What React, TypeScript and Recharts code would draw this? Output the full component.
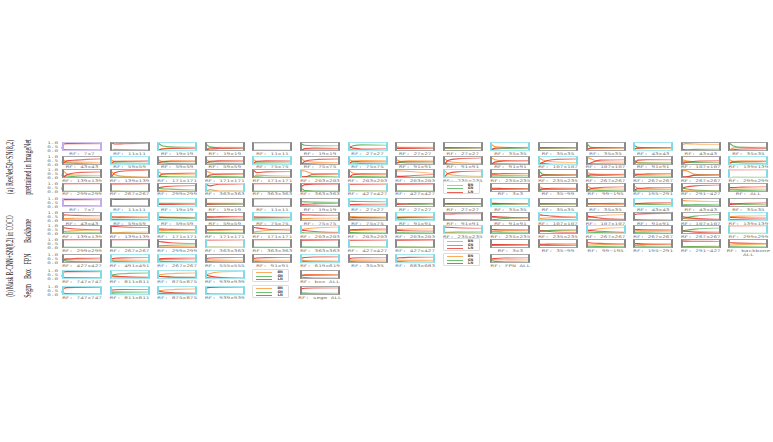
import React from 'react';
import { LineChart, Line, XAxis, YAxis } from 'recharts';

// training progress positions (fraction of iterations)
const STEPS = [0, 0.04, 0.12, 0.35, 1];

type S = number[] | null;

// ---------- (a) ResNet50+SN(8,2) pretrained in ImageNet ----------
const ROW1_LABELS = ['7x7', '11x11', '19x19', '19x19', '11x11', '19x19', '27x27', '27x27', '27x27', '35x35', '35x35', '35x35', '43x43', '43x43', '35x35'];
const ROW2_LABELS = ['43x43', '59x59', '59x59', '59x59', '75x75', '75x75', '75x75', '91x91', '91x91', '91x91', '107x107', '107x107', '91x91', '107x107', '139x139'];
const ROW3_LABELS = ['139x139', '139x139', '171x171', '171x171', '171x171', '203x203', '203x203', '203x203', '235x235', '235x235', '235x235', '267x267', '267x267', '267x267', '299x299'];
const ROW4A_LABELS = ['299x299', '267x267', '299x299', '363x363', '363x363', '363x363', '427x427', '427x427', null, '3x3', '35~99', '99~195', '195~291', '291~427', 'ALL'];
const ROW4B_LABELS = ['299x299', '267x267', '299x299', '363x363', '363x363', '363x363', '427x427', '427x427', null, '3x3', '35~99', '99~195', '195~291', '291~427', 'backbone\nALL'];
const FPN_LABELS = ['427x427', '491x491', '267x267', '555x555', '91x91', '619x619', '35x35', '683x683', null, 'FPN ALL'];
const BOX_LABELS = ['747x747', '811x811', '875x875', '939x939', null, 'box ALL'];
const SEGM_LABELS = ['747x747', '811x811', '875x875', '939x939', null, 'segm ALL'];

const A1_BN: S[] = [[0.33,0.08,0.05,0.05,0.05],[0.33,0.02,0.15,0.12,0.07],[0.33,0.1,0.2,0.3,0.35],[0.33,0.15,0.35,0.4,0.4],[0.33,0.01,0.01,0.01,0.01],[0.33,0.1,0.1,0.1,0.15],[0.33,0.2,0.1,0.1,0.1],[0.33,0.45,0.4,0.4,0.4],[0.33,0.35,0.35,0.35,0.35],[0.33,0.7,0.5,0.4,0.35],[0.33,0.33,0.33,0.35,0.35],[0.33,0.1,0.3,0.3,0.3],[0.33,0.15,0.3,0.3,0.3],[0.33,0.75,0.85,0.8,0.75],[0.33,0.1,0.3,0.4,0.4]];
const A1_GN: S[] = [[0.33,0.12,0.1,0.1,0.1],[0.33,0.03,0.05,0.05,0.03],[0.33,0.85,0.6,0.45,0.4],[0.33,0.7,0.45,0.35,0.3],[0.33,0.01,0.04,0.04,0.04],[0.33,0.8,0.65,0.6,0.6],[0.33,0.3,0.6,0.7,0.65],[0.33,0.3,0.35,0.35,0.35],[0.33,0.3,0.3,0.3,0.3],[0.33,0.2,0.2,0.25,0.25],[0.33,0.3,0.3,0.3,0.3],[0.33,0.7,0.4,0.35,0.35],[0.33,0.6,0.4,0.35,0.35],[0.33,0.15,0.1,0.15,0.2],[0.33,0.85,0.6,0.4,0.35]];
const A1_LN: S[] = [[0.33,0.8,0.85,0.85,0.85],[0.33,0.95,0.8,0.83,0.9],[0.33,0.05,0.2,0.25,0.25],[0.33,0.15,0.2,0.25,0.3],[0.33,0.98,0.95,0.95,0.95],[0.33,0.1,0.25,0.3,0.25],[0.33,0.5,0.3,0.2,0.25],[0.33,0.25,0.25,0.25,0.25],[0.33,0.35,0.35,0.35,0.35],[0.33,0.1,0.3,0.35,0.4],[0.33,0.35,0.35,0.35,0.35],[0.33,0.2,0.3,0.35,0.35],[0.33,0.25,0.3,0.35,0.35],[0.33,0.1,0.05,0.05,0.05],[0.33,0.05,0.1,0.2,0.25]];

const A2_BN: S[] = [[0.33,0.55,0.3,0.3,0.25],[0.33,0.55,0.35,0.4,0.4],[0.33,0.55,0.4,0.45,0.45],[0.33,0.55,0.35,0.4,0.4],[0.33,0.6,0.35,0.35,0.35],[0.33,0.7,0.4,0.3,0.25],[0.33,0.6,0.4,0.5,0.5],[0.33,0.6,0.4,0.45,0.45],[0.33,0.7,0.4,0.25,0.15],[0.33,0.8,0.6,0.45,0.4],[0.33,0.75,0.55,0.35,0.25],[0.33,0.85,0.7,0.35,0.3],[0.33,0.4,0.25,0.2,0.2],[0.33,0.6,0.45,0.35,0.3],[0.33,0.6,0.4,0.45,0.45]];
const A2_GN: S[] = [[0.33,0.2,0.2,0.15,0.05],[0.33,0.2,0.2,0.2,0.15],[0.33,0.2,0.2,0.15,0.15],[0.33,0.25,0.2,0.15,0.15],[0.33,0.2,0.2,0.2,0.2],[0.33,0.2,0.15,0.1,0.05],[0.33,0.2,0.2,0.15,0.15],[0.33,0.2,0.25,0.2,0.2],[0.33,0.2,0.1,0.05,0.05],[0.33,0.1,0.1,0.1,0.1],[0.33,0.15,0.15,0.05,0.05],[0.33,0.1,0.1,0.1,0.1],[0.33,0.5,0.2,0.2,0.2],[0.33,0.1,0.25,0.25,0.2],[0.33,0.2,0.25,0.2,0.15]];
const A2_LN: S[] = [[0.33,0.25,0.45,0.55,0.7],[0.33,0.25,0.4,0.4,0.45],[0.33,0.25,0.35,0.4,0.4],[0.33,0.2,0.4,0.45,0.45],[0.33,0.2,0.4,0.45,0.45],[0.33,0.1,0.4,0.6,0.7],[0.33,0.2,0.4,0.35,0.35],[0.33,0.2,0.35,0.35,0.35],[0.33,0.1,0.5,0.7,0.8],[0.33,0.1,0.3,0.45,0.5],[0.33,0.1,0.3,0.6,0.7],[0.33,0.05,0.2,0.55,0.6],[0.33,0.1,0.55,0.6,0.6],[0.33,0.3,0.3,0.4,0.5],[0.33,0.2,0.35,0.35,0.4]];

const A3_BN: S[] = [[0.33,0.75,0.45,0.3,0.25],[0.33,0.7,0.35,0.15,0.08],[0.33,0.7,0.45,0.4,0.35],[0.33,0.75,0.6,0.45,0.45],[0.33,0.1,0.3,0.25,0.2],[0.33,0.85,0.8,0.45,0.45],[0.33,0.8,0.55,0.4,0.4],[0.33,0.8,0.8,0.75,0.5],[0.33,0.8,0.45,0.25,0.15],[0.33,0.35,0.35,0.3,0.3],[0.33,0.15,0.3,0.35,0.35],[0.33,0.6,0.45,0.4,0.4],[0.33,0.45,0.4,0.35,0.35],[0.33,0.85,0.85,0.4,0.35],[0.33,0,0.02,0.02,0.02]];
const A3_GN: S[] = [[0.33,0.15,0.2,0.1,0.05],[0.33,0.1,0.05,0.05,0.02],[0.33,0.15,0.15,0.1,0.1],[0.33,0.15,0.1,0.15,0.1],[0.33,0.05,0.1,0.05,0.05],[0.33,0.05,0.1,0.15,0.1],[0.33,0.1,0.1,0.15,0.15],[0.33,0.05,0.05,0.05,0.1],[0.33,0.05,0.05,0.05,0.05],[0.33,0.2,0.2,0.2,0.2],[0.33,0.7,0.4,0.35,0.3],[0.33,0.15,0.2,0.25,0.2],[0.33,0.25,0.2,0.2,0.15],[0.33,0.05,0.05,0.3,0.3],[0.33,0,0.03,0.03,0.03]];
const A3_LN: S[] = [[0.33,0.1,0.35,0.6,0.7],[0.33,0.2,0.6,0.8,0.9],[0.33,0.15,0.4,0.5,0.55],[0.33,0.1,0.3,0.4,0.45],[0.33,0.85,0.6,0.7,0.75],[0.33,0.1,0.1,0.4,0.45],[0.33,0.1,0.35,0.45,0.45],[0.33,0.15,0.15,0.2,0.4],[0.33,0.15,0.5,0.7,0.8],[0.33,0.45,0.45,0.5,0.5],[0.33,0.15,0.3,0.3,0.35],[0.33,0.25,0.35,0.35,0.4],[0.33,0.3,0.4,0.45,0.5],[0.33,0.1,0.1,0.3,0.35],[0.33,1,0.95,0.95,0.95]];

const A4_BN: S[] = [[0.33,0.02,0.01,0.01,0.01],[0.33,0.02,0.03,0.02,0.01],[0.33,0.1,0.1,0.05,0.05],[0.33,0.1,0.25,0.08,0.05],[0.33,0.02,0.02,0.02,0.02],[0.33,0.05,0.03,0.02,0.02],[0.33,0.05,0.03,0.03,0.03],[0.33,0.05,0.04,0.04,0.04],null,[0.33,0.35,0.35,0.35,0.35],[0.33,0.6,0.4,0.35,0.3],[0.33,0.65,0.45,0.35,0.3],[0.33,0.65,0.4,0.35,0.3],[0.33,0.15,0.1,0.1,0.1],[0.33,0.3,0.3,0.3,0.3]];
const A4_GN: S[] = [[0.33,0.03,0.04,0.04,0.04],[0.33,0.03,0.05,0.05,0.04],[0.33,0.4,0.35,0.3,0.2],[0.33,0.05,0.05,0.02,0.03],[0.33,0.03,0.03,0.03,0.03],[0.33,0.35,0.12,0.08,0.08],[0.33,0.05,0.07,0.07,0.07],[0.33,0.05,0.06,0.06,0.06],null,[0.33,0.25,0.25,0.27,0.27],[0.33,0.15,0.25,0.25,0.3],[0.33,0.15,0.2,0.15,0.1],[0.33,0.15,0.2,0.2,0.2],[0.33,0.45,0.35,0.2,0.1],[0.33,0.2,0.2,0.15,0.1]];
const A4_LN: S[] = [[0.33,0.95,0.95,0.95,0.95],[0.33,0.95,0.92,0.93,0.95],[0.33,0.5,0.55,0.65,0.75],[0.33,0.85,0.7,0.9,0.92],[0.33,0.95,0.95,0.95,0.95],[0.33,0.6,0.85,0.9,0.9],[0.33,0.9,0.9,0.9,0.9],[0.33,0.9,0.9,0.9,0.9],null,[0.33,0.4,0.4,0.38,0.38],[0.33,0.25,0.35,0.4,0.4],[0.33,0.2,0.35,0.5,0.6],[0.33,0.2,0.4,0.45,0.5],[0.33,0.4,0.55,0.7,0.8],[0.33,0.5,0.5,0.55,0.6]];

// ---------- (b) Mask R-CNN+SN(8,2) in COCO ----------
const B1_BN: S[] = [[0.05,0.05,0.05,0.05,0.05],[0.07,0.07,0.08,0.08,0.08],[0.35,0.35,0.35,0.33,0.32],[0.4,0.4,0.4,0.4,0.4],[0.01,0.01,0.01,0.01,0.01],[0.15,0.15,0.14,0.12,0.1],[0.1,0.1,0.1,0.1,0.1],[0.4,0.4,0.38,0.37,0.35],[0.35,0.35,0.35,0.36,0.37],[0.35,0.35,0.34,0.33,0.32],[0.35,0.35,0.35,0.35,0.35],[0.3,0.3,0.3,0.28,0.27],[0.3,0.3,0.3,0.3,0.3],[0.75,0.74,0.72,0.68,0.62],[0.4,0.4,0.38,0.35,0.32]];
const B1_GN: S[] = [[0.1,0.1,0.1,0.1,0.11],[0.03,0.03,0.04,0.05,0.06],[0.4,0.4,0.4,0.4,0.4],[0.3,0.3,0.3,0.28,0.25],[0.04,0.04,0.04,0.04,0.04],[0.6,0.6,0.58,0.55,0.5],[0.65,0.65,0.64,0.62,0.6],[0.35,0.35,0.34,0.3,0.25],[0.3,0.3,0.29,0.28,0.27],[0.25,0.25,0.27,0.3,0.33],[0.3,0.3,0.3,0.3,0.3],[0.35,0.35,0.36,0.38,0.4],[0.35,0.35,0.33,0.28,0.22],[0.2,0.2,0.21,0.24,0.28],[0.35,0.35,0.33,0.28,0.2]];
const B1_LN: S[] = [[0.85,0.85,0.85,0.85,0.84],[0.9,0.9,0.88,0.87,0.86],[0.25,0.25,0.25,0.27,0.28],[0.3,0.3,0.3,0.32,0.35],[0.95,0.95,0.95,0.95,0.95],[0.25,0.25,0.28,0.33,0.4],[0.25,0.25,0.26,0.28,0.3],[0.25,0.25,0.28,0.33,0.4],[0.35,0.35,0.36,0.36,0.36],[0.4,0.4,0.39,0.37,0.35],[0.35,0.35,0.35,0.35,0.35],[0.35,0.35,0.34,0.34,0.33],[0.35,0.35,0.37,0.42,0.48],[0.05,0.06,0.07,0.08,0.1],[0.25,0.25,0.29,0.37,0.48]];

const B2_BN: S[] = [[0.25,0.25,0.26,0.28,0.3],[0.4,0.4,0.41,0.43,0.45],[0.45,0.45,0.44,0.42,0.4],[0.4,0.4,0.39,0.37,0.35],[0.35,0.35,0.36,0.38,0.4],[0.25,0.25,0.26,0.28,0.3],[0.5,0.5,0.49,0.47,0.45],[0.45,0.45,0.45,0.45,0.45],[0.15,0.15,0.13,0.1,0.07],[0.4,0.4,0.38,0.33,0.28],[0.25,0.25,0.28,0.35,0.45],[0.3,0.35,0.45,0.6,0.75],[0.2,0.15,0.1,0.07,0.05],[0.3,0.28,0.24,0.18,0.1],[0.45,0.46,0.5,0.55,0.6]];
const B2_GN: S[] = [[0.05,0.05,0.06,0.08,0.1],[0.15,0.15,0.15,0.15,0.15],[0.15,0.15,0.17,0.2,0.25],[0.15,0.15,0.15,0.15,0.15],[0.2,0.2,0.2,0.2,0.2],[0.05,0.05,0.05,0.05,0.05],[0.15,0.15,0.15,0.17,0.2],[0.2,0.2,0.18,0.16,0.15],[0.05,0.05,0.06,0.07,0.08],[0.1,0.1,0.14,0.25,0.37],[0.05,0.05,0.07,0.1,0.15],[0.1,0.1,0.1,0.1,0.1],[0.2,0.12,0.1,0.08,0.08],[0.2,0.25,0.35,0.55,0.75],[0.15,0.14,0.13,0.12,0.1]];
const B2_LN: S[] = [[0.7,0.7,0.68,0.64,0.6],[0.45,0.45,0.44,0.42,0.4],[0.4,0.4,0.39,0.38,0.35],[0.45,0.45,0.46,0.48,0.5],[0.45,0.45,0.44,0.42,0.4],[0.7,0.7,0.69,0.67,0.65],[0.35,0.35,0.36,0.36,0.35],[0.35,0.35,0.37,0.39,0.4],[0.8,0.8,0.81,0.83,0.85],[0.5,0.5,0.48,0.42,0.35],[0.7,0.7,0.65,0.55,0.4],[0.6,0.55,0.45,0.3,0.15],[0.6,0.73,0.8,0.85,0.87],[0.5,0.47,0.41,0.27,0.15],[0.4,0.4,0.37,0.33,0.3]];

const B3_BN: S[] = [[0.25,0.25,0.28,0.36,0.45],[0.08,0.08,0.1,0.15,0.2],[0.35,0.35,0.36,0.38,0.4],[0.45,0.45,0.44,0.42,0.4],[0.2,0.2,0.25,0.38,0.55],[0.45,0.47,0.55,0.68,0.8],[0.4,0.4,0.39,0.37,0.35],[0.5,0.5,0.52,0.56,0.6],[0.15,0.15,0.17,0.21,0.25],[0.3,0.3,0.32,0.36,0.4],[0.35,0.35,0.36,0.38,0.4],[0.4,0.4,0.45,0.6,0.75],[0.35,0.35,0.35,0.35,0.35],[0.35,0.34,0.32,0.28,0.22],[0.02,0.02,0.02,0.02,0.02]];
const B3_GN: S[] = [[0.05,0.05,0.06,0.08,0.1],[0.02,0.02,0.03,0.04,0.05],[0.1,0.1,0.1,0.1,0.1],[0.1,0.1,0.1,0.1,0.1],[0.05,0.05,0.05,0.05,0.05],[0.1,0.1,0.08,0.06,0.05],[0.15,0.15,0.13,0.11,0.1],[0.1,0.1,0.1,0.1,0.1],[0.05,0.05,0.06,0.08,0.1],[0.2,0.2,0.19,0.17,0.15],[0.3,0.3,0.33,0.39,0.45],[0.2,0.2,0.17,0.12,0.1],[0.15,0.15,0.16,0.18,0.2],[0.3,0.32,0.4,0.55,0.68],[0.03,0.03,0.03,0.03,0.03]];
const B3_LN: S[] = [[0.7,0.7,0.66,0.56,0.45],[0.9,0.9,0.87,0.81,0.75],[0.55,0.55,0.54,0.52,0.5],[0.45,0.45,0.46,0.48,0.5],[0.75,0.75,0.7,0.57,0.4],[0.45,0.43,0.37,0.26,0.15],[0.45,0.45,0.48,0.52,0.55],[0.4,0.4,0.38,0.34,0.3],[0.8,0.8,0.77,0.71,0.65],[0.5,0.5,0.49,0.47,0.45],[0.35,0.35,0.31,0.23,0.15],[0.4,0.4,0.38,0.28,0.15],[0.5,0.5,0.49,0.47,0.45],[0.35,0.34,0.28,0.17,0.1],[0.95,0.95,0.95,0.95,0.95]];

const B4_BN: S[] = [[0.01,0.01,0.01,0.01,0.01],[0.01,0.01,0.01,0.01,0.01],[0.05,0.05,0.07,0.11,0.15],[0.05,0.05,0.05,0.05,0.05],[0.02,0.02,0.02,0.02,0.02],[0.02,0.02,0.02,0.02,0.02],[0.03,0.03,0.03,0.03,0.03],[0.04,0.04,0.04,0.04,0.04],null,[0.35,0.35,0.35,0.35,0.35],[0.3,0.3,0.3,0.3,0.3],[0.3,0.3,0.32,0.36,0.4],[0.3,0.3,0.33,0.39,0.45],[0.1,0.1,0.1,0.1,0.1],[0.3,0.3,0.32,0.36,0.4]];
const B4_GN: S[] = [[0.04,0.04,0.04,0.04,0.04],[0.04,0.04,0.04,0.04,0.04],[0.2,0.2,0.23,0.29,0.35],[0.03,0.03,0.03,0.03,0.03],[0.03,0.03,0.03,0.03,0.03],[0.08,0.08,0.08,0.08,0.08],[0.07,0.07,0.07,0.07,0.07],[0.06,0.06,0.06,0.06,0.06],null,[0.27,0.27,0.27,0.27,0.27],[0.3,0.3,0.29,0.27,0.25],[0.1,0.1,0.11,0.13,0.15],[0.2,0.2,0.19,0.17,0.15],[0.1,0.1,0.11,0.13,0.15],[0.1,0.1,0.1,0.1,0.1]];
const B4_LN: S[] = [[0.95,0.95,0.95,0.95,0.95],[0.95,0.95,0.95,0.95,0.95],[0.75,0.75,0.7,0.6,0.5],[0.92,0.92,0.92,0.92,0.92],[0.95,0.95,0.95,0.95,0.95],[0.9,0.9,0.9,0.9,0.9],[0.9,0.9,0.9,0.9,0.9],[0.9,0.9,0.9,0.9,0.9],null,[0.38,0.38,0.38,0.38,0.38],[0.4,0.4,0.41,0.43,0.45],[0.6,0.6,0.57,0.51,0.45],[0.5,0.5,0.48,0.44,0.4],[0.8,0.8,0.79,0.77,0.75],[0.6,0.6,0.58,0.54,0.5]];

const FPN_BN: S[] = [[0.33,0.35,0.36,0.35,0.33],[0.33,0.33,0.32,0.3,0.28],[0.33,0.35,0.36,0.36,0.35],[0.33,0.32,0.31,0.3,0.28],[0.33,0.32,0.3,0.29,0.28],[0.33,0.3,0.25,0.22,0.2],[0.33,0.32,0.3,0.3,0.3],[0.33,0.31,0.29,0.28,0.27],null,[0.33,0.34,0.35,0.34,0.33]];
const FPN_GN: S[] = [[0.33,0.25,0.18,0.14,0.12],[0.33,0.22,0.15,0.12,0.1],[0.33,0.22,0.15,0.12,0.1],[0.33,0.2,0.13,0.1,0.1],[0.33,0.2,0.13,0.1,0.1],[0.33,0.18,0.12,0.1,0.1],[0.33,0.2,0.13,0.1,0.1],[0.33,0.2,0.12,0.08,0.07],null,[0.33,0.22,0.15,0.1,0.08]];
const FPN_LN: S[] = [[0.33,0.4,0.46,0.51,0.55],[0.33,0.45,0.53,0.58,0.62],[0.33,0.43,0.49,0.52,0.55],[0.33,0.48,0.56,0.6,0.62],[0.33,0.48,0.57,0.61,0.62],[0.33,0.52,0.63,0.68,0.7],[0.33,0.48,0.57,0.6,0.6],[0.33,0.49,0.59,0.64,0.66],null,[0.33,0.44,0.5,0.56,0.59]];

const BOX_BN: S[] = [[0.33,0.05,0.03,0.03,0.03],[0.33,0.25,0.2,0.15,0.15],[0.33,0.4,0.5,0.6,0.7],[0.33,0.45,0.6,0.8,0.9],null,[0.33,0.4,0.45,0.5,0.5]];
const BOX_GN: S[] = [[0.33,0.15,0.12,0.12,0.12],[0.33,0.4,0.5,0.6,0.7],[0.33,0.3,0.25,0.2,0.15],[0.33,0.15,0.1,0.05,0.03],null,[0.33,0.2,0.13,0.08,0.08]];
const BOX_LN: S[] = [[0.33,0.8,0.85,0.85,0.85],[0.33,0.35,0.3,0.25,0.15],[0.33,0.3,0.25,0.2,0.15],[0.33,0.4,0.3,0.15,0.07],null,[0.33,0.4,0.42,0.42,0.42]];

const SEGM_BN: S[] = [[0.33,0.05,0.03,0.03,0.03],[0.33,0.15,0.1,0.08,0.08],[0.33,0.4,0.5,0.6,0.7],[0.33,0.08,0.04,0.03,0.03],null,[0.33,0.1,0.04,0.03,0.03]];
const SEGM_GN: S[] = [[0.33,0.2,0.12,0.1,0.1],[0.33,0.3,0.3,0.3,0.3],[0.33,0.15,0.15,0.15,0.1],[0.33,0.12,0.08,0.07,0.07],null,[0.33,0.2,0.18,0.17,0.17]];
const SEGM_LN: S[] = [[0.33,0.75,0.85,0.87,0.87],[0.33,0.55,0.6,0.62,0.62],[0.33,0.45,0.35,0.25,0.2],[0.33,0.8,0.88,0.9,0.9],null,[0.33,0.7,0.78,0.8,0.8]];

// highlighted layers: p = first conv, c = highlighted, g = normal, - = legend slot
const A1_MARK = 'pgcgggcggcggcgg';
const A2_MARK = 'gcggcgcgggcgggc';
const A3_MARK = 'ggcggcggcgggggc';
const A4_MARK = 'gggcggcg-gggggg';
const B1_MARK = 'pgcgggcggcggcgg';
const B2_MARK = 'gccgcggcggcgggc';
const B3_MARK = 'ggcggcggcggcggc';
const B4_MARK = 'gggcggcg-gggggg';
const FPN_MARK = 'gccggcgc-g';
const BOX_MARK = 'cccc-g';
const SEGM_MARK = 'cccc-g';

const SERIES = [
  { key: 'bn', name: 'BN', color: '#ff9636' },
  { key: 'gn', name: 'GN', color: '#4fae4f' },
  { key: 'ln', name: 'LN', color: '#e5382f' },
];

const COL_X0 = 62;
const COL_PITCH = 47.6;
const PW = 40;
const PH = 9;
const AXIS_W = 20;

const FRAME_STYLE: Record<string, React.CSSProperties> = {
  g: { borderTop: '1px solid #a8a8a8', borderBottom: '1px solid #a8a8a8', borderLeft: '2px solid #8a8a8a', borderRight: '2px solid #8a8a8a' },
  c: { borderTop: '1px solid #a6e6ee', borderBottom: '1px solid #a6e6ee', borderLeft: '2px solid #80dbe6', borderRight: '2px solid #80dbe6' },
  p: { borderTop: '1px solid #d2c2ec', borderBottom: '1px solid #d2c2ec', borderLeft: '2px solid #c2acea', borderRight: '2px solid #c2acea' },
};

const ROWS = [
  { id: 'a1', top: 142, labels: ROW1_LABELS, bn: A1_BN, gn: A1_GN, ln: A1_LN, mark: A1_MARK },
  { id: 'a2', top: 155.5, labels: ROW2_LABELS, bn: A2_BN, gn: A2_GN, ln: A2_LN, mark: A2_MARK },
  { id: 'a3', top: 169, labels: ROW3_LABELS, bn: A3_BN, gn: A3_GN, ln: A3_LN, mark: A3_MARK },
  { id: 'a4', top: 182.5, labels: ROW4A_LABELS, bn: A4_BN, gn: A4_GN, ln: A4_LN, mark: A4_MARK },
  { id: 'b1', top: 198, labels: ROW1_LABELS, bn: B1_BN, gn: B1_GN, ln: B1_LN, mark: B1_MARK },
  { id: 'b2', top: 212, labels: ROW2_LABELS, bn: B2_BN, gn: B2_GN, ln: B2_LN, mark: B2_MARK },
  { id: 'b3', top: 225, labels: ROW3_LABELS, bn: B3_BN, gn: B3_GN, ln: B3_LN, mark: B3_MARK },
  { id: 'b4', top: 239, labels: ROW4B_LABELS, bn: B4_BN, gn: B4_GN, ln: B4_LN, mark: B4_MARK },
  { id: 'fpn', top: 254, labels: FPN_LABELS, bn: FPN_BN, gn: FPN_GN, ln: FPN_LN, mark: FPN_MARK },
  { id: 'box', top: 270, labels: BOX_LABELS, bn: BOX_BN, gn: BOX_GN, ln: BOX_LN, mark: BOX_MARK },
  { id: 'segm', top: 286, labels: SEGM_LABELS, bn: SEGM_BN, gn: SEGM_GN, ln: SEGM_LN, mark: SEGM_MARK },
];

const SIDE_TEXT = [
  { text: '(a) ResNet50+SN(8,2)', x: 10, y: 167, squeeze: 0.6 },
  { text: 'pretrained in ImageNet', x: 28, y: 167, squeeze: 0.6 },
  { text: '(b) Mask R-CNN+SN(8,2) in COCO', x: 10, y: 256, squeeze: 0.55 },
  { text: 'Backbone', x: 28, y: 231, squeeze: 0.6 },
  { text: 'FPN', x: 28, y: 259, squeeze: 0.6 },
  { text: 'Box', x: 28, y: 274, squeeze: 0.6 },
  { text: 'Segm', x: 28, y: 291, squeeze: 0.6 },
];

// tick labels sit just left of the frame, squashed like the rest of the figure
const renderTick = ({ y, payload }: any) => (
  <g transform={`translate(${AXIS_W - 4},${y})`}>
    <text x={0} y={0} textAnchor="end" dominantBaseline="central" fontSize={6} fontFamily="DejaVu Sans Mono" fill="#777" transform="scale(1,0.6)">
      {Number(payload.value).toFixed(1)}
    </text>
  </g>
);

interface CellProps {
  id: string;
  left: number;
  top: number;
  bn: number[];
  gn: number[];
  ln: number[];
  mark: string;
  label: string;
  axis: boolean;
}

const Cell: React.FC<CellProps> = ({ id, left, top, bn, gn, ln, mark, label, axis }) => {
  const data = STEPS.map((t, i) => ({ t, bn: bn[i], gn: gn[i], ln: ln[i] }));
  const aw = axis ? AXIS_W : 0;
  return (
    <>
      <div style={{ position: 'absolute', left: left - aw, top: top - 3 }}>
        <LineChart width={PW + aw} height={PH + 6} data={data} margin={{ top: 3, right: 0, bottom: 3, left: 0 }}>
          <defs>
            {SERIES.map((s) => (
              <linearGradient key={s.key} id={`${id}-${s.key}`} gradientUnits="userSpaceOnUse" x1={aw} y1={0} x2={aw + PW} y2={0}>
                <stop offset="0" stopColor={s.color} stopOpacity={1} />
                <stop offset="1" stopColor={s.color} stopOpacity={0.45} />
              </linearGradient>
            ))}
          </defs>
          <XAxis dataKey="t" type="number" domain={[0, 1]} hide />
          <YAxis
            type="number"
            domain={[-0.05, 1.05]}
            hide={!axis}
            width={aw}
            ticks={[0, 0.5, 1]}
            interval={0}
            axisLine={false}
            tickLine={false}
            tickSize={0}
            tick={renderTick}
          />
          {SERIES.map((s) => (
            <Line
              key={s.key}
              dataKey={s.key}
              type="monotone"
              stroke={`url(#${id}-${s.key})`}
              strokeWidth={1.1}
              dot={false}
              isAnimationActive={false}
            />
          ))}
        </LineChart>
      </div>
      <div style={{ position: 'absolute', left, top, width: PW, height: PH, boxSizing: 'border-box', pointerEvents: 'none', ...FRAME_STYLE[mark] }} />
      <div
        style={{
          position: 'absolute',
          left: left + PW / 2,
          top: top + PH + 0.5,
          transform: 'translateX(-50%) scaleY(0.6)',
          transformOrigin: 'top center',
          fontFamily: 'DejaVu Sans Mono',
          fontSize: 6,
          lineHeight: '6px',
          color: '#777',
          whiteSpace: 'pre',
          textAlign: 'center',
        }}
      >
        {label.split('\n').map((l, i) => (i === 0 ? `RF: ${l}` : `\n${l}`)).join('')}
      </div>
    </>
  );
};

const LegendBox: React.FC<{ left: number; top: number }> = ({ left, top }) => (
  <div style={{ position: 'absolute', left, top: top - 1.5, width: 37, height: 13, border: '1px solid #dedede', borderRadius: 1, background: '#fff', boxSizing: 'border-box' }}>
    {SERIES.map((s, i) => (
      <div key={s.key} style={{ position: 'absolute', left: 3, top: 1.5 + i * 3.5, width: 32, height: 3.5 }}>
        <div style={{ position: 'absolute', left: 0, top: 1.3, width: 16, height: 1.2, background: s.color, opacity: 0.8 }} />
        <div style={{ position: 'absolute', left: 21, top: -0.6, fontFamily: 'DejaVu Sans Mono', fontWeight: 'bold', fontSize: 4.5, lineHeight: '4.5px', color: '#444', transform: 'scaleY(0.8)' }}>{s.name}</div>
      </div>
    ))}
  </div>
);

export default function App() {
  return (
    <div style={{ position: 'absolute', left: 0, top: 0, width: 773, height: 442, background: '#fff', overflow: 'hidden' }}>
      <svg width={773} height={442} style={{ position: 'absolute', left: 0, top: 0 }}>
        {SIDE_TEXT.map((t) => (
          <text
            key={t.text}
            transform={`translate(${t.x},${t.y}) rotate(-90) scale(${t.squeeze},1)`}
            textAnchor="middle"
            dominantBaseline="central"
            fontFamily="Liberation Serif"
            fontSize={10}
            fill="#222"
          >
            {t.text}
          </text>
        ))}
      </svg>
      {ROWS.map((row) =>
        row.labels.map((label, c) => {
          const left = COL_X0 + c * COL_PITCH;
          if (label === null) return <LegendBox key={`${row.id}-${c}`} left={left} top={row.top} />;
          return (
            <Cell
              key={`${row.id}-${c}`}
              id={`${row.id}-${c}`}
              left={left}
              top={row.top}
              bn={row.bn[c] as number[]}
              gn={row.gn[c] as number[]}
              ln={row.ln[c] as number[]}
              mark={row.mark[c]}
              label={label}
              axis={c === 0}
            />
          );
        })
      )}
    </div>
  );
}
